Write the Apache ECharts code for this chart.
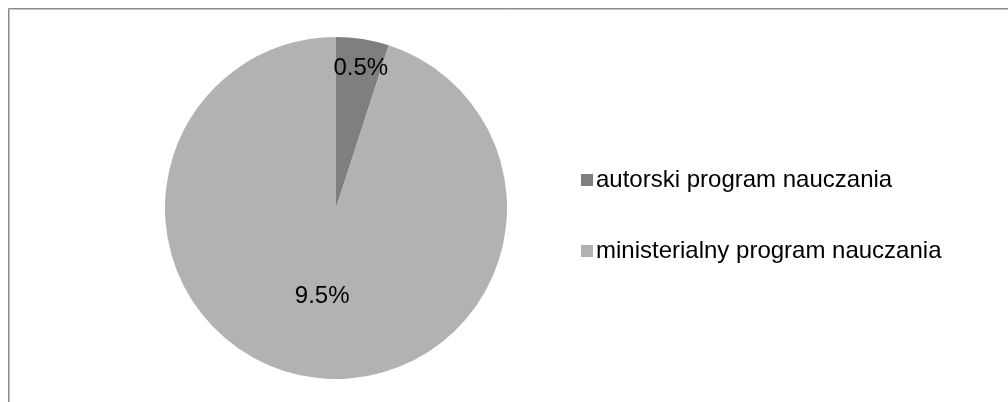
<!DOCTYPE html>
<html>
<head>
<meta charset="utf-8">
<style>
  html, body { margin: 0; padding: 0; background: #ffffff; }
  #chart { width: 1008px; height: 402px; }
</style>
<script src="https://cdn.jsdelivr.net/npm/echarts@6/dist/echarts.min.js"></script>
</head>
<body>
<div id="chart"></div>
<script>
// Share of curricula used
const categories = ['autorski program nauczania', 'ministerialny program nauczania'];
const values = [0.5, 9.5];
const sliceColors = ['#7f7f7f', '#b2b2b2'];

// Label nudges from the default inside position, per slice
const labelOffsets = [[11, -52], [0, 1]];

const chart = echarts.init(document.getElementById('chart'), null, { renderer: 'canvas' });

const pieData = categories.map((name, i) => ({
  name: name,
  value: values[i],
  itemStyle: { color: sliceColors[i] },
  label: { offset: labelOffsets[i] }
}));

const option = {
  animation: false,
  backgroundColor: '#ffffff',
  graphic: [
    {
      type: 'rect',
      shape: { x: 8.5, y: 8.5, width: 1020, height: 420 },
      style: { fill: 'none', stroke: '#8a8a8a', lineWidth: 1 },
      silent: true
    },
    {
      type: 'rect',
      shape: { x: 9.5, y: 9.5, width: 1020, height: 420 },
      style: { fill: 'none', stroke: '#c4c4c4', lineWidth: 1 },
      silent: true
    }
  ],
  legend: {
    orient: 'vertical',
    left: 581,
    top: 168,
    padding: 0,
    itemWidth: 12,
    itemHeight: 12,
    itemGap: 47,
    icon: 'rect',
    selectedMode: false,
    data: categories,
    textStyle: {
      fontFamily: 'Liberation Sans, Arial, sans-serif',
      fontSize: 24,
      color: '#000000',
      padding: [0, 0, 0, -2]
    }
  },
  series: [
    {
      type: 'pie',
      center: [336, 208],
      radius: 171,
      startAngle: 90,
      clockwise: true,
      silent: true,
      avoidLabelOverlap: false,
      itemStyle: { borderWidth: 0 },
      label: {
        show: true,
        position: 'inside',
        formatter: '{c}%',
        fontFamily: 'Liberation Sans, Arial, sans-serif',
        fontSize: 24,
        color: '#000000'
      },
      labelLine: { show: false },
      emphasis: { disabled: true },
      data: pieData
    }
  ]
};

chart.setOption(option);
</script>
</body>
</html>
